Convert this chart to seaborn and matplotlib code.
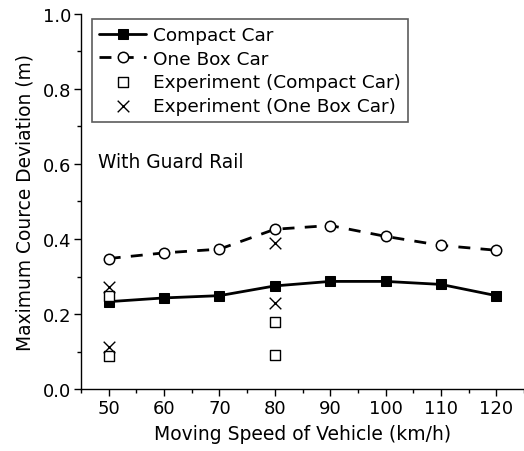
import matplotlib
matplotlib.use("Agg")
import matplotlib.pyplot as plt
import seaborn as sns
import pandas as pd
from matplotlib.ticker import MultipleLocator

speeds = [50, 60, 70, 80, 90, 100, 110, 120]
compact = [0.233, 0.243, 0.249, 0.275, 0.287, 0.287, 0.279, 0.249]
onebox = [0.348, 0.363, 0.373, 0.426, 0.436, 0.407, 0.383, 0.370]

exp_compact_x = [50, 50, 80, 80]
exp_compact_y = [0.249, 0.089, 0.180, 0.091]
exp_onebox_x = [50, 50, 80, 80]
exp_onebox_y = [0.271, 0.113, 0.389, 0.229]

xticks = [50, 60, 70, 80, 90, 100, 110, 120]
yticks = [0.0, 0.2, 0.4, 0.6, 0.8, 1.0]

sns.set_theme(style="ticks")
plt.rcParams['font.family'] = ['DejaVu Sans']
plt.rcParams['text.color'] = 'black'
plt.rcParams['axes.labelcolor'] = 'black'

fig = plt.figure(figsize=(5.24, 4.52), dpi=100)
ax = fig.add_axes([0.1546, 0.137, 0.8454, 0.830])

df_c = pd.DataFrame({"speed": speeds, "dev": compact})
df_o = pd.DataFrame({"speed": speeds, "dev": onebox})
df_ec = pd.DataFrame({"speed": exp_compact_x, "dev": exp_compact_y})
df_eo = pd.DataFrame({"speed": exp_onebox_x, "dev": exp_onebox_y})

sns.lineplot(data=df_c, x="speed", y="dev", ax=ax, color="black", lw=2,
             marker="s", markersize=7, markerfacecolor="black",
             markeredgecolor="black", label="Compact Car", zorder=3)
sns.lineplot(data=df_o, x="speed", y="dev", ax=ax, color="black", lw=2,
             marker="o", markersize=7.5, markerfacecolor="white",
             markeredgecolor="black", markeredgewidth=1.1,
             label="One Box Car", zorder=3)
ax.lines[-1].set_linestyle((0, (4.3, 3.7)))
sns.scatterplot(data=df_ec, x="speed", y="dev", ax=ax, marker="s", s=50,
                facecolor="white", edgecolor="black", linewidth=1.0,
                label="Experiment (Compact Car)", zorder=4)
sns.scatterplot(data=df_eo, x="speed", y="dev", ax=ax, marker="x", s=70,
                color="black", linewidth=1.0,
                label="Experiment (One Box Car)", zorder=4)

ax.set_xlim(45, 125)
ax.set_ylim(0, 1.0)
ax.set_xticks(xticks)
ax.set_yticks(yticks)
ax.set_yticklabels([f"{v:.1f}" for v in yticks])
ax.xaxis.set_minor_locator(MultipleLocator(5))
ax.yaxis.set_minor_locator(MultipleLocator(0.1))
ax.tick_params(axis="both", which="major", direction="out", length=5,
               width=1, labelsize=13, colors="black", pad=2)
ax.tick_params(axis="both", which="minor", direction="out", length=3,
               width=1, colors="black")
for s in ["top", "right"]:
    ax.spines[s].set_visible(False)
for s in ["left", "bottom"]:
    ax.spines[s].set_linewidth(1.0)
    ax.spines[s].set_color("black")

ax.set_xlabel("Moving Speed of Vehicle (km/h)", fontsize=13.5, labelpad=5)
ax.set_ylabel("Maximum Cource Deviation (m)", fontsize=13.4, labelpad=6)

ax.text(48.1, 0.607, "With Guard Rail", fontsize=13.4, va="center", ha="left")

leg = ax.legend(loc="upper left", bbox_to_anchor=(0.025, 0.987), fontsize=13.3,
                frameon=True, fancybox=False, handlelength=2.5,
                handletextpad=0.4, borderpad=0.4, labelspacing=0.3,
                borderaxespad=0)
leg.get_frame().set_edgecolor("#333333")
leg.get_frame().set_linewidth(1.2)

fig.savefig("out.png", dpi=100)
